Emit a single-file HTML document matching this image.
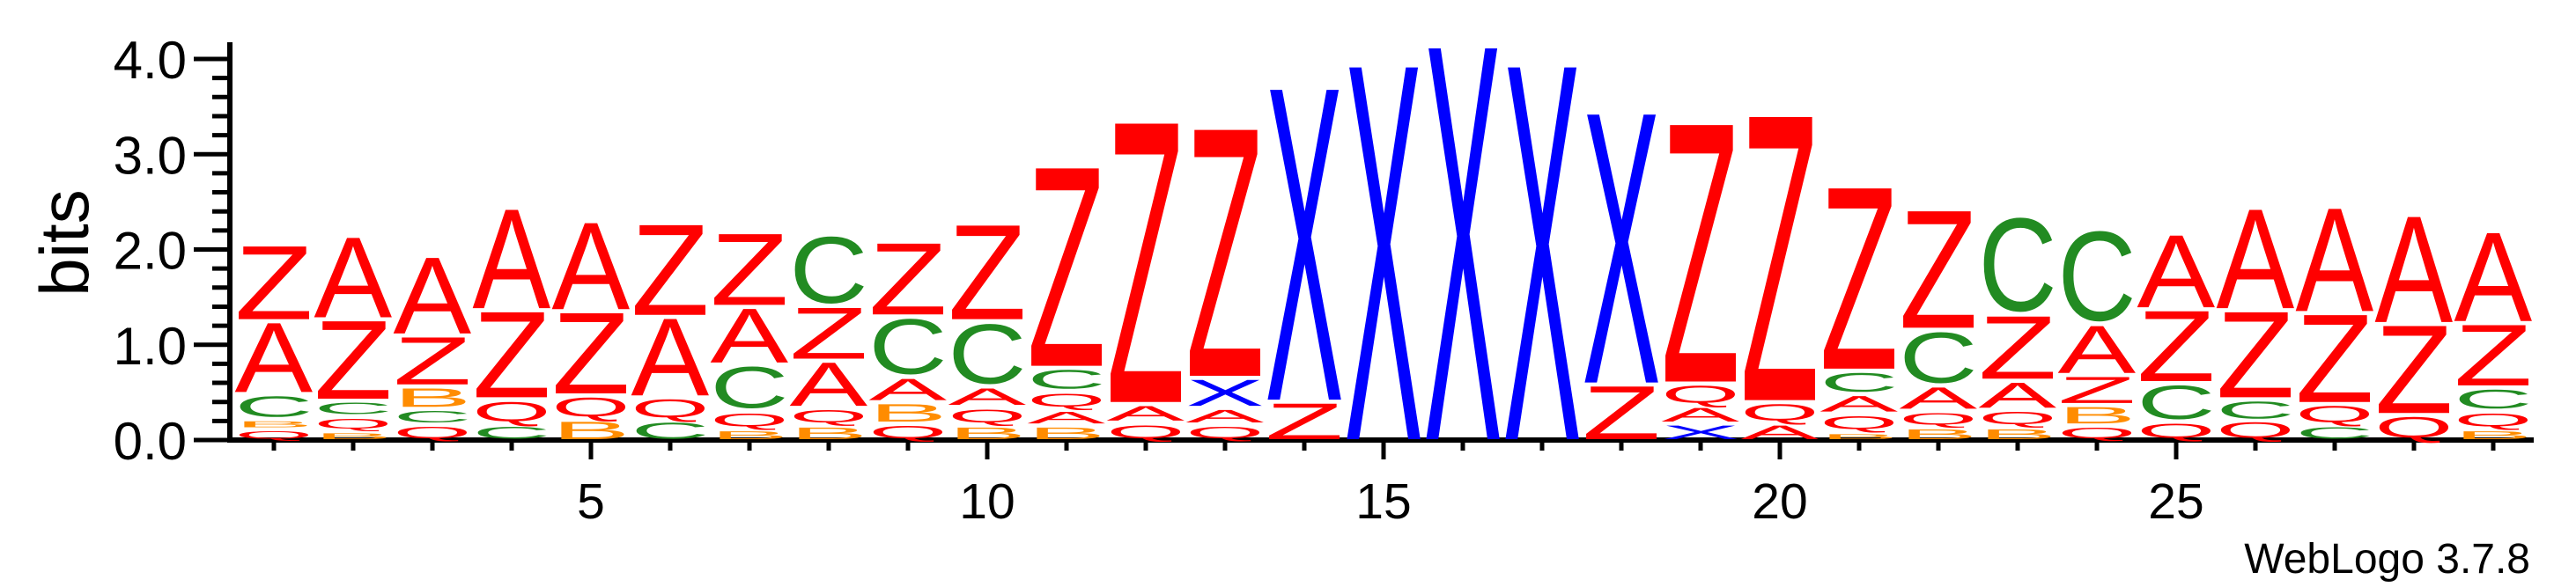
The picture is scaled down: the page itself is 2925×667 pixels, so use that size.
<!DOCTYPE html>
<html><head><meta charset="utf-8"><style>
html,body{margin:0;padding:0;background:#fff;}
svg{display:block;font-family:"Liberation Sans",Arial,sans-serif;}
</style></head><body>
<svg id="logo" width="2925" height="667" viewBox="0 0 2925 667" xmlns="http://www.w3.org/2000/svg">
<g id="axes"></g>
<g id="stacks"></g>
<text transform="translate(100,276) rotate(-90)" text-anchor="middle" font-size="78" fill="#000">bits</text>
<text x="2873" y="651" text-anchor="end" font-size="48" fill="#000">WebLogo 3.7.8</text>
</svg>
<script>
// Per-position letter stacks, listed bottom to top.
const positions = [1,2,3,4,5,6,7,8,9,10,11,12,13,14,15,16,17,18,19,20,21,22,23,24,25,26,27,28,29];
const stackLetters = [
 ["Q","B","C","A","Z"],["B","Q","C","Z","A"],["Q","C","B","Z","A"],["C","Q","Z","A"],["B","Q","Z","A"],
 ["C","Q","A","Z"],["B","Q","C","A","Z"],["B","Q","A","Z","C"],["Q","B","A","C","Z"],["B","Q","A","C","Z"],
 ["B","A","Q","C","Z"],["Q","A","Z"],["Q","A","X","Z"],["Z","X"],["X"],
 ["X"],["X"],["Z","X"],["X","A","Q","Z"],["A","Q","Z"],
 ["B","Q","A","C","Z"],["B","Q","A","C","Z"],["B","Q","A","Z","C"],["Q","B","Z","A","C"],["Q","C","Z","A"],
 ["Q","C","Z","A"],["C","Q","Z","A"],["Q","Z","A"],["B","Q","C","Z","A"]
];
const stackBits = [
 [0.10,0.08,0.24,0.74,0.78],[0.08,0.13,0.14,0.83,0.85],[0.15,0.14,0.21,0.51,0.81],[0.15,0.24,0.91,1.05],[0.20,0.23,0.86,0.92],
 [0.19,0.22,0.82,0.96],[0.10,0.17,0.46,0.58,0.76],[0.14,0.16,0.47,0.55,0.73],[0.16,0.20,0.24,0.61,0.76],[0.14,0.17,0.19,0.66,1.00],
 [0.14,0.14,0.17,0.22,2.09],[0.17,0.17,2.94],[0.15,0.15,0.29,2.60],[0.39,3.27],[3.92],
 [4.12],[3.92],[0.57,2.83],[0.16,0.16,0.21,2.71],[0.16,0.20,2.99],
 [0.07,0.17,0.18,0.22,1.91],[0.12,0.15,0.24,0.56,1.24],[0.12,0.16,0.28,0.67,1.02],[0.14,0.19,0.29,0.51,0.98],[0.18,0.38,0.75,0.77],
 [0.19,0.20,0.91,1.05],[0.14,0.20,0.93,1.09],[0.25,0.93,1.12],[0.10,0.17,0.22,0.65,0.94]
];
const yTicks = [0,1,2,3,4];
const yTickLabels = ["0.0","1.0","2.0","3.0","4.0"];
const xTickLabels = [5,10,15,20,25];

const colors = {A:"#ff0000",Z:"#ff0000",Q:"#ff0000",C:"#228b22",B:"#ff8c00",X:"#0000ff"};
const NS = "http://www.w3.org/2000/svg";
const y0 = 500, pxPerBit = 108.25;
const yScale = v => y0 - v * pxPerBit;
const xScale = p => 311 + (p - 1) * 90;
const colW = 82;

const axes = document.getElementById('axes');
function mk(tag, attrs, parent){
  const e = document.createElementNS(NS, tag);
  for (const k in attrs) e.setAttribute(k, attrs[k]);
  parent.appendChild(e);
  return e;
}
let yl = mk('line',{x1:261,y1:48,x2:261,y2:503,stroke:'#000','stroke-width':6},axes);


for (let v = 0; v <= 4.0001; v += 0.2) {
  const major = Math.abs(v - Math.round(v)) < 1e-6;
  const t = mk('line',{x1:major?220:241,y1:yScale(v),x2:261,y2:yScale(v),stroke:'#000','stroke-width':5},axes);
  
  
}
yTicks.forEach((v,i) => {
  const t = mk('text',{x:212,y:yScale(v)+22,'text-anchor':'end','font-size':60,fill:'#000'},axes);
  t.textContent = yTickLabels[i];
  
  
});
let xl = mk('line',{x1:258,y1:y0,x2:2877,y2:y0,stroke:'#000','stroke-width':6},axes);


positions.forEach(p => {
  const major = xTickLabels.indexOf(p) >= 0;
  const t = mk('line',{x1:xScale(p),y1:y0,x2:xScale(p),y2:major?522:512,stroke:'#000','stroke-width':5},axes);
  
  
});
xTickLabels.forEach(p => {
  const t = mk('text',{x:xScale(p),y:589,'text-anchor':'middle','font-size':57,fill:'#000'},axes);
  t.textContent = String(p);
  
  
});

const stacks = document.getElementById('stacks');
positions.forEach((p, i) => {
  const g = mk('g',{},stacks);
  
  
  let cum = 0;
  stackLetters[i].forEach((L, j) => {
    const h = stackBits[i][j];
    const bottom = yScale(cum) - 1;
    const top = yScale(cum + h) + 1;
    cum += h + 0.025;
    const hh = bottom - top;
    if (hh <= 0.5) return;
    const t = mk('text',{x:0,y:0,'font-size':100,fill:colors[L]},g);
    t.textContent = L;
    
    
    const bb = t.getBBox();
    const round = (L === 'C' || L === 'Q');
    const capTop = round ? -70.3 : -68.8;
    const capBot = (L === 'Q') ? 5.5 : (L === 'C' ? 1.4 : 0);
    const gw = bb.width * 0.92, gx = bb.x + bb.width * 0.04;
    const sx = colW / gw, sy = hh / (capBot - capTop);
    const tx = xScale(p) - colW / 2 - gx * sx;
    const ty = bottom - capBot * sy;
    t.setAttribute('transform', `translate(${tx},${ty}) scale(${sx},${sy})`);
  });
});
</script>
</body></html>
